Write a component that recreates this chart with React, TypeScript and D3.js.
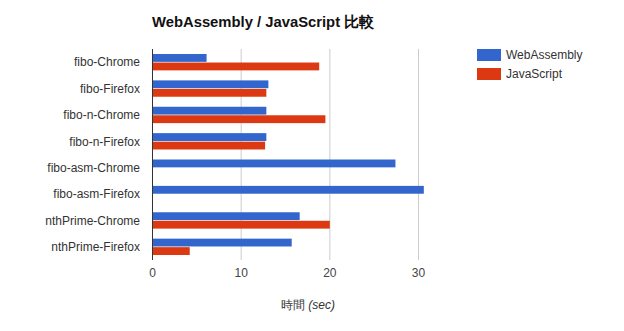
import React from "react";
import * as d3 from "d3";

const categories = [
  "fibo-Chrome",
  "fibo-Firefox",
  "fibo-n-Chrome",
  "fibo-n-Firefox",
  "fibo-asm-Chrome",
  "fibo-asm-Firefox",
  "nthPrime-Chrome",
  "nthPrime-Firefox",
];
const wasmValues = [6.1, 13.07, 12.84, 12.84, 27.4, 30.6, 16.6, 15.7];
const jsValues = [18.8, 12.84, 19.5, 12.7, null, null, 20.0, 4.2];
const seriesNames = ["WebAssembly", "JavaScript"];
const seriesColors = ["#3366cc", "#dc3912"];
const xTicks = [0, 10, 20, 30];

const W = 624;
const H = 331;
const FONT = "Arial, 'Liberation Sans', sans-serif";

export default function App() {
  const left = 152.5;
  const top = 49;
  const bottom = 260;
  const x = d3.scaleLinear().domain([0, 30]).range([left, 418.5]);
  const y = d3.scaleBand<string>().domain(categories).range([top, bottom]).paddingInner(0.38).paddingOuter(0.19);
  const sub = d3.scaleBand<number>().domain([0, 1]).range([0, y.bandwidth()]).paddingInner(0.08);
  const series = [wasmValues, jsValues];

  return (
    <svg width={W} height={H} style={{ position: "absolute", left: 0, top: 0, background: "#fff" }} fontFamily={FONT}>
      <rect width={W} height={H} fill="#fff" />
      <text x={152} y={27} fontSize={14.8} fontWeight="bold" fill="#111">
        WebAssembly / JavaScript 比較
      </text>
      {xTicks.slice(1).map((t) => (
        <line key={t} x1={x(t)} x2={x(t)} y1={top} y2={bottom} stroke="#cccccc" strokeWidth={1} />
      ))}
      {categories.map((c, i) => (
        <g key={c}>
          {series.map((vals, s) => {
            const v = vals[i];
            if (v == null) return null;
            return (
              <rect
                key={s}
                x={x(0)}
                y={(y(c) as number) + (sub(s) as number)}
                width={x(v) - x(0)}
                height={sub.bandwidth()}
                fill={seriesColors[s]}
              />
            );
          })}
          <text
            x={140}
            y={(y(c) as number) + y.bandwidth() / 2}
            dy="0.35em"
            textAnchor="end"
            fontSize={12}
            fill="#333"
          >
            {c}
          </text>
        </g>
      ))}
      <line x1={x(0)} x2={x(0)} y1={top} y2={bottom} stroke="#333" strokeWidth={1} />
      {xTicks.map((t) => (
        <text key={t} x={x(t)} y={273} dy="0.35em" textAnchor="middle" fontSize={12} fill="#444">
          {t}
        </text>
      ))}
      <text x={308} y={305} dy="0.35em" textAnchor="middle" fontSize={12} fill="#333">
        時間 <tspan fontStyle="italic">(sec)</tspan>
      </text>
      {seriesNames.map((n, i) => (
        <g key={n}>
          <rect x={477} y={49 + i * 19} width={24} height={12} fill={seriesColors[i]} />
          <text x={506} y={55 + i * 19} dy="0.35em" fontSize={12} fill="#333">
            {n}
          </text>
        </g>
      ))}
    </svg>
  );
}
